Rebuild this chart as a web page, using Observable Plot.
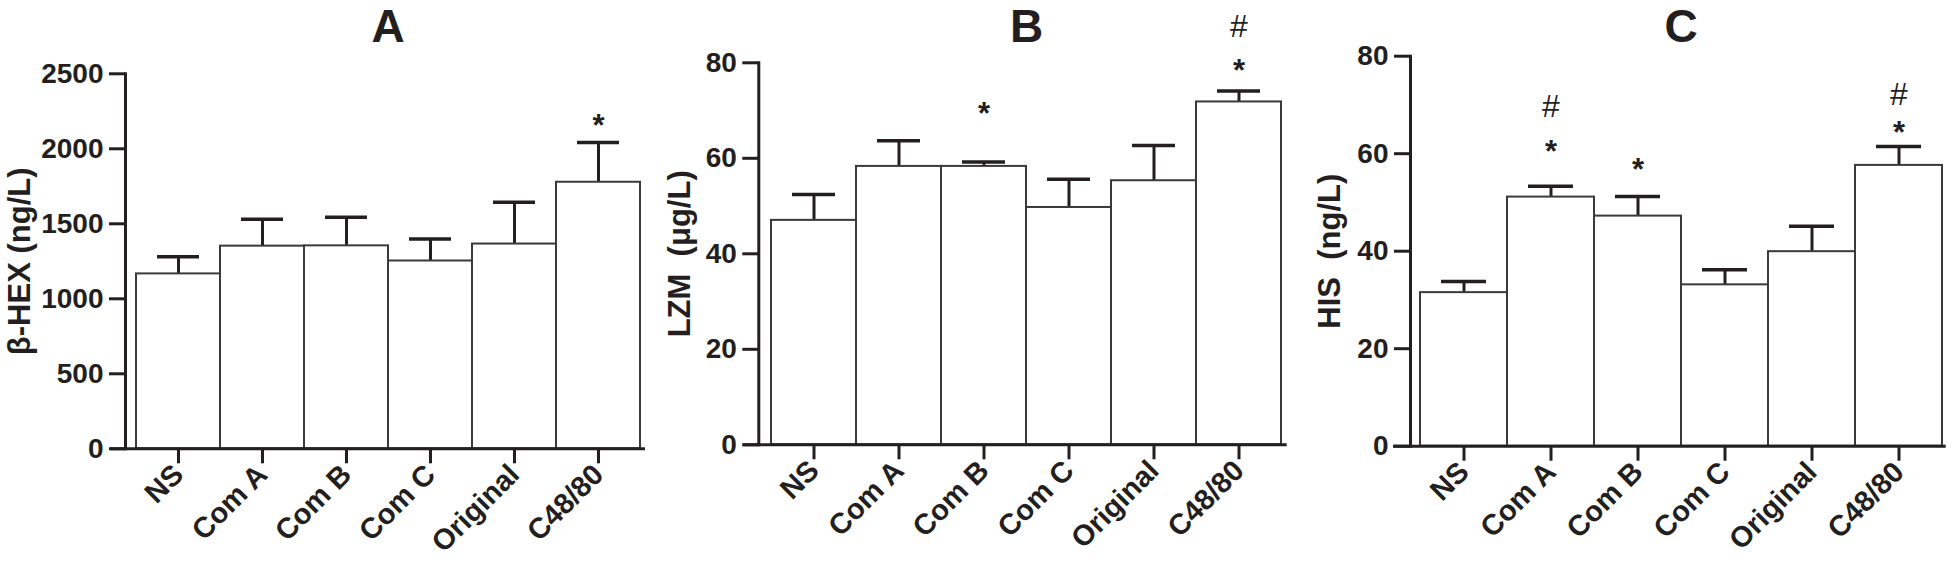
<!DOCTYPE html>
<html>
<head>
<meta charset="utf-8">
<script src="https://cdn.jsdelivr.net/npm/d3@7"></script>
<script src="https://cdn.jsdelivr.net/npm/@observablehq/plot@0.6"></script>
<style>
  html, body { margin: 0; padding: 0; background: #fff; }
  #fig { position: relative; width: 1952px; height: 564px; overflow: hidden; background: #fff; }
  .panel { position: absolute; top: 0; }
</style>
</head>
<body>
<div id="fig"></div>
<script>
// ---- data ----
const categories = ["NS", "Com A", "Com B", "Com C", "Original", "C48/80"];

// Panel A: β-HEX (ng/L)
const hexMean = [1166, 1351, 1353, 1252, 1365, 1777];
const hexSem  = [115, 180, 190, 147, 279, 265];
const hexTicks = [0, 500, 1000, 1500, 2000, 2500];

// Panel B: LZM (μg/L)
const lzmMean = [47.0, 58.3, 58.3, 49.7, 55.3, 71.8];
const lzmSem  = [5.4, 5.4, 0.9, 5.9, 7.4, 2.3];
const lzmTicks = [0, 20, 40, 60, 80];

// Panel C: HIS (ng/L)
const hisMean = [31.5, 51.1, 47.2, 33.1, 39.9, 57.6];
const hisSem  = [2.3, 2.2, 4.0, 3.1, 5.2, 3.9];
const hisTicks = [0, 20, 40, 60, 80];

// significance marks: category, symbol, value level where the symbol sits
const hexMarks = [["C48/80", "*", 2195]];
const lzmMarks = [["Com B", "*", 70.8], ["C48/80", "*", 79.8], ["C48/80", "#", 87.5]];
const hisMarks = [["Com A", "*", 61.7], ["Com A", "#", 69.6], ["Com B", "*", 58.0],
                  ["C48/80", "*", 65.7], ["C48/80", "#", 72.1]];

const ink = "#231f20";
const FONT = "'Liberation Sans', Arial, Helvetica, sans-serif";

function panel({left, width, title, ylabel, mean, sem, ticks, marks,
                mt, mb, ml, mr, axisDx, xLineLeft, labelX}) {
  const rows = categories.map((c, i) => ({cat: c, value: mean[i], top: mean[i] + sem[i]}));
  const ann = marks.map(([cat, sym, y]) => ({cat, sym, y}));
  const ymax = ticks[ticks.length - 1];
  const chart = Plot.plot({
    width, height: 564,
    marginTop: mt, marginBottom: mb, marginLeft: ml, marginRight: mr,
    style: {fontFamily: FONT, fontWeight: "bold", color: ink, background: "white", overflow: "visible"},
    x: {domain: categories, padding: 0, label: null},
    y: {domain: [0, ymax], label: null},
    marks: [
      Plot.ruleX(rows, {x: "cat", y1: "value", y2: "top", stroke: ink, strokeWidth: 3}),
      Plot.tickY(rows, {x: "cat", y: "top", stroke: ink, strokeWidth: 3.5, insetLeft: 21, insetRight: 21}),
      Plot.barY(rows, {x: "cat", y: "value", fill: "white", stroke: "#3a3a3a", strokeWidth: 2}),
      Plot.frame({anchor: "left", dx: axisDx, stroke: ink, strokeWidth: 3}),
      Plot.ruleY([0], {stroke: ink, strokeWidth: 3, insetLeft: xLineLeft, insetRight: -3}),
      Plot.axisY({ticks, tickSize: 16, tickPadding: 6, dx: axisDx, stroke: ink, strokeWidth: 3,
                  fontSize: 28, label: null, tickFormat: d => String(d)}),
      Plot.axisX({tickSize: 15, tickPadding: 6, tickRotate: -45, stroke: ink, strokeWidth: 3,
                  fontSize: 29, label: null}),
      Plot.text(ann.filter(d => d.sym === "*"), {x: "cat", y: "y", text: "sym", fontSize: 31, dy: 7, fill: ink}),
      Plot.text(ann.filter(d => d.sym === "#"), {x: "cat", y: "y", text: "sym", fontSize: 32, fontWeight: "normal", fill: ink}),
      Plot.text([title], {frameAnchor: "top", lineAnchor: "middle", textAnchor: "middle",
                          dy: 27 - mt, fontSize: 46, fill: ink}),
      Plot.text([ylabel], {frameAnchor: "left", textAnchor: "middle", lineAnchor: "middle",
                           rotate: -90, dx: labelX - ml, fontSize: 31, fill: ink})
    ]
  });
  const div = document.createElement("div");
  div.className = "panel";
  div.style.left = left + "px";
  div.appendChild(chart);
  document.getElementById("fig").appendChild(div);
}

panel({left: 0, width: 650, title: "A", ylabel: "β-HEX (ng/L)", mean: hexMean, sem: hexSem,
       ticks: hexTicks, marks: hexMarks, mt: 73.3, mb: 115.7, ml: 133, mr: 8, axisDx: -8,
       xLineLeft: -23, labelX: 20});
panel({left: 650, width: 650, title: "B", ylabel: "LZM  (μg/L)", mean: lzmMean, sem: lzmSem,
       ticks: lzmTicks, marks: lzmMarks, mt: 62.3, mb: 119.7, ml: 118.3, mr: 16.3, axisDx: -10,
       xLineLeft: -25.6, labelX: 30});
panel({left: 1300, width: 652, title: "C", ylabel: "HIS  (ng/L)", mean: hisMean, sem: hisSem,
       ticks: hisTicks, marks: hisMarks, mt: 55.7, mb: 118.3, ml: 118.3, mr: 9.3, axisDx: -8.3,
       xLineLeft: -25.3, labelX: 30});
</script>
</body>
</html>
